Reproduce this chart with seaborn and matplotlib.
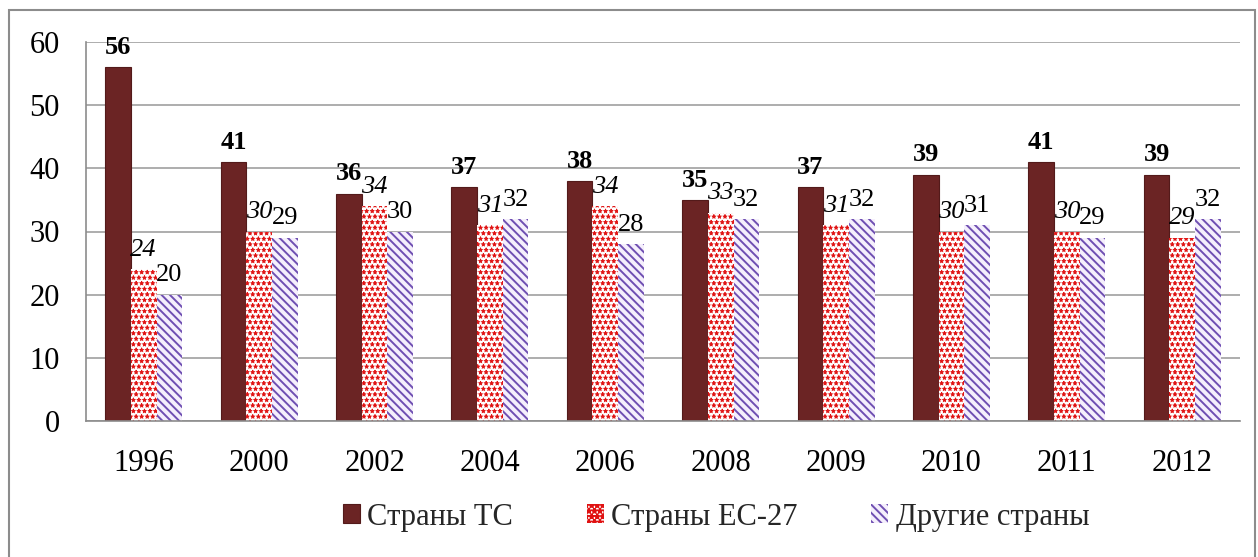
import matplotlib
matplotlib.use("Agg")
import matplotlib.pyplot as plt
import seaborn as sns
import pandas as pd
from matplotlib.patches import Rectangle, Patch

years = ["1996", "2000", "2002", "2004", "2006", "2008", "2009", "2010", "2011", "2012"]
series_names = ["Страны ТС", "Страны ЕС-27", "Другие страны"]
tc_values = [56, 41, 36, 37, 38, 35, 37, 39, 41, 39]
eu_values = [24, 30, 34, 31, 34, 33, 31, 30, 30, 29]
other_values = [20, 29, 30, 32, 28, 32, 32, 31, 29, 32]

rows = []
for name, vals in zip(series_names, [tc_values, eu_values, other_values]):
    for y, v in zip(years, vals):
        rows.append({"year": y, "series": name, "value": v})
df = pd.DataFrame(rows)

sns.set_theme(style="white")
plt.rcParams['font.family'] = ['Liberation Serif', 'DejaVu Serif']
plt.rcParams['hatch.linewidth'] = 1.4

fig = plt.figure(figsize=(12.58, 5.57), dpi=100)
ax = fig.add_axes([86 / 1258, 136 / 557, (1240 - 86) / 1258, (421 - 42) / 557])

sns.barplot(data=df, x="year", y="value", hue="series", order=years,
            hue_order=series_names, width=0.667, dodge=True, ax=ax,
            legend=False, saturation=1,
            palette=["#6B2424", "#FFFFFF", "#F4EEFA"])

styles = [
    dict(face="#6B2424", edge="#531A1A", hatch=None, hlw=None),
    dict(face="#FFFFFF", edge="#E01212", hatch="***", hlw=0.6),
    dict(face="#F5EFFC", edge="#6F4FB2", hatch="\\\\\\\\", hlw=1.4),
]


def style_patch(p, st):
    p.set_facecolor(st["face"])
    p.set_edgecolor(st["edge"])
    if st["hatch"]:
        p.set_linewidth(0)
        p.set_hatch(st["hatch"])
        if hasattr(p, "set_hatch_linewidth"):
            p.set_hatch_linewidth(st["hlw"])
    else:
        p.set_linewidth(0.8)


for cont, st in zip(ax.containers, styles):
    for p in cont.patches:
        style_patch(p, st)

label_fmt = [dict(fontweight="bold", fontstyle="normal"),
             dict(fontweight="normal", fontstyle="italic"),
             dict(fontweight="normal", fontstyle="normal")]
for cont, fmt in zip(ax.containers, label_fmt):
    ax.bar_label(cont, fmt="%d", padding=6, fontsize=19, color="black", **fmt)

ax.set_ylim(0, 60)
ax.set_xlim(-0.5, len(years) - 0.5)
ax.set_yticks(range(0, 61, 10))
ax.yaxis.grid(True, color="#A0A0A0", linewidth=1.2)
ax.set_axisbelow(True)
ax.set_xlabel("")
ax.set_ylabel("")
for s in ["top", "right"]:
    ax.spines[s].set_visible(False)
for s in ["left", "bottom"]:
    ax.spines[s].set_color("#8C8C8C")
    ax.spines[s].set_linewidth(1.2)
ax.tick_params(axis="x", labelsize=22, colors="black", length=0, pad=20)
ax.tick_params(axis="y", labelsize=22, labelcolor="black", length=7,
               width=1.2, color="#8C8C8C", direction="out", pad=12)
ax.set_xticks([i + 0.5 for i in range(-1, len(years))], minor=True)
ax.tick_params(axis="x", which="minor", length=7, width=1.2,
               color="#8C8C8C", direction="out")

# legend
handles = []
for st in styles:
    h = Patch(facecolor=st["face"], edgecolor=st["edge"], hatch=st["hatch"],
              linewidth=0 if st["hatch"] else 0.8)
    if st["hatch"] and hasattr(h, "set_hatch_linewidth"):
        h.set_hatch_linewidth(st["hlw"])
    handles.append(h)
fig.legend(handles, series_names, loc="center", ncol=3, frameon=False,
           bbox_to_anchor=(716 / 1258, 1 - 517 / 557), fontsize=22,
           handlelength=0.56, handleheight=0.56, handletextpad=0.25,
           columnspacing=2.4, borderpad=0, borderaxespad=0)

# outer border
fig.patches.append(Rectangle((9 / 1258, -5 / 557), 1246 / 1258, 552 / 557,
                             transform=fig.transFigure, fill=False,
                             edgecolor="#8C8C8C", linewidth=1.5))

fig.savefig("out.png", dpi=100)
